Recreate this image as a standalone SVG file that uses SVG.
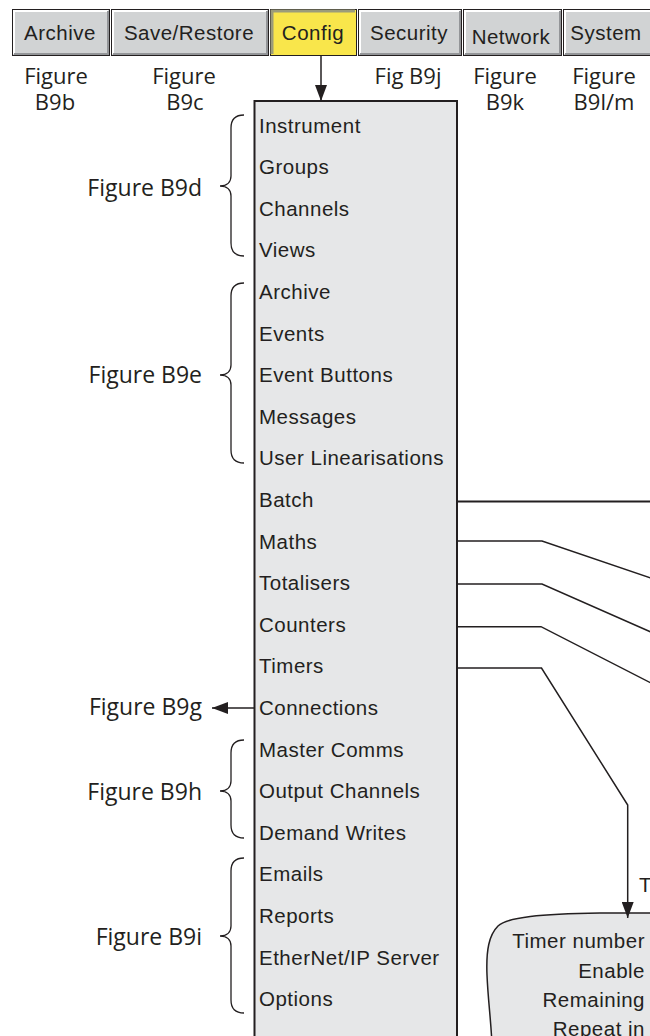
<svg xmlns="http://www.w3.org/2000/svg" width="650" height="1036" viewBox="0 0 650 1036">
<defs>
<style>
.tab{fill:#d1d3d4;stroke:#231f20;stroke-width:1}
.hl{fill:none;stroke:#ffffff;stroke-width:2}
.sh{fill:none;stroke:#939598;stroke-width:2}
.tabt{font-family:"Liberation Sans",Arial,sans-serif;font-size:20.5px;letter-spacing:0.5px;fill:#231f20;text-anchor:middle}
.fig{font-family:"Open Sans","Noto Sans",sans-serif;font-size:23px;fill:#231f20}
.figt{font-family:"Open Sans","Noto Sans",sans-serif;font-size:22px;fill:#231f20;text-anchor:middle}
.item{font-family:"Liberation Sans",Arial,sans-serif;font-size:20.5px;letter-spacing:0.5px;fill:#231f20}
.ln{fill:none;stroke:#231f20;stroke-width:1.5}
.brace{fill:none;stroke:#231f20;stroke-width:1.3}
.box{fill:#e6e7e8;stroke:#231f20;stroke-width:2}
</style>
<marker id="ah" viewBox="0 0 16 12" markerUnits="userSpaceOnUse" markerWidth="16" markerHeight="12" refX="16" refY="6" orient="auto">
<path d="M0,0 L16,6 L0,12 z" fill="#231f20"/>
</marker>
</defs>
<rect width="650" height="1036" fill="#ffffff"/>

<g id="tabs">
<g id="tab-archive"><rect class="tab" x="12.5" y="9.5" width="97" height="46"/><path class="hl" d="M14,54 V11 H108"/><path class="sh" d="M108,11 V54 H14"/><text class="tabt" x="60" y="39.5">Archive</text></g>
<g id="tab-saverestore"><rect class="tab" x="111.5" y="9.5" width="157" height="46"/><path class="hl" d="M113,54 V11 H267"/><path class="sh" d="M267,11 V54 H113"/><text class="tabt" x="189" y="39.5">Save/Restore</text></g>
<g id="tab-config"><rect x="270.5" y="9.5" width="86" height="46" fill="#f9e64b" stroke="#231f20" stroke-width="1"/><path d="M272,54 V11 H355" fill="none" stroke="#9c9c7a" stroke-width="3"/><text class="tabt" x="313" y="39.5">Config</text></g>
<g id="tab-security"><rect class="tab" x="358.5" y="9.5" width="103" height="46"/><path class="hl" d="M360,54 V11 H460"/><path class="sh" d="M460,11 V54 H360"/><text class="tabt" x="409" y="39.5">Security</text></g>
<g id="tab-network"><rect class="tab" x="463.5" y="9.5" width="98" height="46"/><path class="hl" d="M465,54 V11 H560"/><path class="sh" d="M560,11 V54 H465"/><text class="tabt" x="511" y="44">Network</text></g>
<g id="tab-system"><rect class="tab" x="563.5" y="9.5" width="95" height="46"/><path class="hl" d="M565,54 V11 H660"/><path class="sh" d="M660,11 V54 H565"/><text class="tabt" x="606" y="39.5">System</text></g>
</g>

<g id="tab-figure-labels">
<text class="figt" x="56" y="84">Figure</text><text class="figt" x="55" y="110">B9b</text>
<text class="figt" x="184" y="84">Figure</text><text class="figt" x="185" y="110">B9c</text>
<text class="figt" x="408" y="84">Fig B9j</text>
<text class="figt" x="505" y="84">Figure</text><text class="figt" x="505" y="110">B9k</text>
<text class="figt" x="604" y="84">Figure</text><text class="figt" x="604" y="110">B9l/m</text>
</g>

<g id="config-menu">
<rect class="box" x="254.5" y="101" width="202.5" height="960"/>
<text class="item" x="259" y="132.5">Instrument</text>
<text class="item" x="259" y="174.1">Groups</text>
<text class="item" x="259" y="215.7">Channels</text>
<text class="item" x="259" y="257.3">Views</text>
<text class="item" x="259" y="298.9">Archive</text>
<text class="item" x="259" y="340.5">Events</text>
<text class="item" x="259" y="382.1">Event Buttons</text>
<text class="item" x="259" y="423.7">Messages</text>
<text class="item" x="259" y="465.3">User Linearisations</text>
<text class="item" x="259" y="506.9">Batch</text>
<text class="item" x="259" y="548.5">Maths</text>
<text class="item" x="259" y="590.1">Totalisers</text>
<text class="item" x="259" y="631.7">Counters</text>
<text class="item" x="259" y="673.3">Timers</text>
<text class="item" x="259" y="714.9">Connections</text>
<text class="item" x="259" y="756.5">Master Comms</text>
<text class="item" x="259" y="798.1">Output Channels</text>
<text class="item" x="259" y="839.7">Demand Writes</text>
<text class="item" x="259" y="881.3">Emails</text>
<text class="item" x="259" y="922.9">Reports</text>
<text class="item" x="259" y="964.5">EtherNet/IP Server</text>
<text class="item" x="259" y="1006.1">Options</text>
</g>

<g id="group-labels">
<path class="brace" d="M244,115 C236,115 231,119 231,128 L231,176 C231,182 227,186 220,186 C227,186 231,190 231,196 L231,243 C231,252 236,256 244,256"/>
<text class="fig" x="202" y="196" text-anchor="end">Figure B9d</text>
<path class="brace" d="M244,283 C236,283 231,287 231,296 L231,365 C231,371 227,375 220,375 C227,375 231,379 231,385 L231,450 C231,459 236,463 244,463"/>
<text class="fig" x="202" y="383" text-anchor="end">Figure B9e</text>
<text class="fig" x="202" y="715" text-anchor="end">Figure B9g</text>
<path class="brace" d="M244,740 C236,740 231,744 231,753 L231,781 C231,787 227,791 220,791 C227,791 231,795 231,801 L231,825 C231,834 236,838 244,838"/>
<text class="fig" x="202" y="800" text-anchor="end">Figure B9h</text>
<path class="brace" d="M244,858 C236,858 231,862 231,871 L231,926 C231,932 227,936 220,936 C227,936 231,940 231,946 L231,1000 C231,1009 236,1013 244,1013"/>
<text class="fig" x="202" y="945" text-anchor="end">Figure B9i</text>
</g>

<g id="timer-box">
<path d="M660,913 H600 C540,914 508,917 498,926 C489,935 486,950 487,975 C488,1000 491,1020 492,1045 H660 Z" fill="#e6e7e8" stroke="#231f20" stroke-width="1.5"/>
<text class="item" x="645" y="948" text-anchor="end">Timer number</text>
<text class="item" x="645" y="977.5" text-anchor="end">Enable</text>
<text class="item" x="645" y="1006.5" text-anchor="end">Remaining</text>
<text class="item" x="645" y="1035.5" text-anchor="end">Repeat in</text>
</g>
<text class="item" x="639" y="892">T</text>

<g id="connectors">
<path class="ln" d="M321,56 V101" marker-end="url(#ah)"/>
<path class="ln" d="M254,708 H212" marker-end="url(#ah)"/>
<path d="M457,501.5 H650" fill="none" stroke="#231f20" stroke-width="2"/>
<path class="ln" d="M457,541 H542 L652,578.5"/>
<path class="ln" d="M457,584 H542 L652,632.5"/>
<path class="ln" d="M457,626.7 H541 L652,683.5"/>
<path class="ln" d="M457,668 H541.5 L627.7,805 V918" marker-end="url(#ah)"/>
</g>
</svg>
